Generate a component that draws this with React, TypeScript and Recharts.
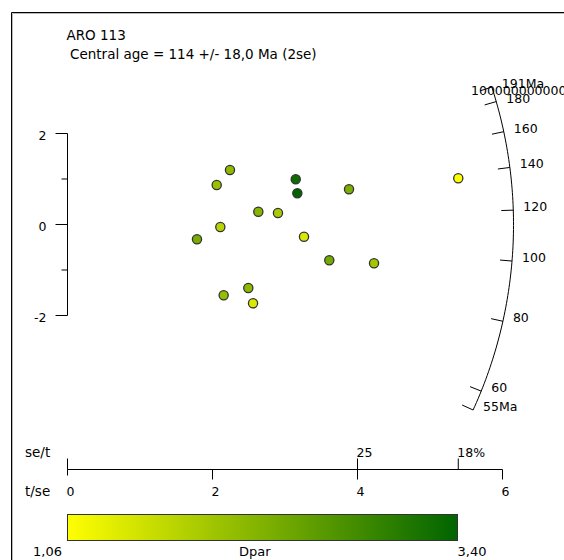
import React from 'react'
import { ScatterChart, Scatter, XAxis, YAxis, ReferenceLine, ReferenceDot } from 'recharts'

// grains: x = t/se (precision), y = standardised estimate, Dpar for colour
const precision = [2.241, 2.058, 3.148, 3.17, 3.883, 2.632, 2.903, 2.108, 1.786, 3.262, 3.611, 4.228, 2.494, 2.154, 2.559, 5.39]
const zScore = [1.198, 0.868, 0.993, 0.686, 0.774, 0.281, 0.253, -0.055, -0.325, -0.268, -0.787, -0.853, -1.396, -1.556, -1.732, 1.015]
const dpar = [2.11, 1.99, 3.28, 3.4, 2.28, 2.16, 1.86, 1.72, 2.3, 1.41, 2.35, 1.9, 2.11, 2.04, 1.39, 1.06]

const sampleName = 'ARO 113'
const centralAge = 114
const centralErr = 18.0
const arcTicks = [60, 80, 100, 120, 140, 160, 180]
const arcEnds = [55, 191]
const zTicks = [-2, -1, 0, 1, 2]
const tseTicks = [0, 2, 4, 6]
const seTickPos = [0, 4, 5.39]
const seTickLabels = ['', '25', '18%']
const dparRange = [1.06, 3.4]

// arc radius in data units (x and y scales differ)
const R_X = 6.152
const R_Y = 9.802

const FONT = '"DejaVu Sans", Verdana, sans-serif'
const INK = '#000'

const lo = [255, 255, 0]
const hi = [0, 100, 0]
function dparColor(v: number) {
  const t = Math.max(0, Math.min(1, (v - dparRange[0]) / (dparRange[1] - dparRange[0])))
  const c = lo.map((a, i) => Math.round(a + (hi[i] - a) * t))
  return `rgb(${c[0]},${c[1]},${c[2]})`
}

const phiOf = (age: number) => Math.atan((Math.log(age / centralAge) * R_X) / R_Y)
const onArc = (phi: number, k = 1) => ({ x: k * R_X * Math.cos(phi), y: k * R_Y * Math.sin(phi) })

const grains = precision.map((x, i) => ({ x, y: zScore[i], d: dpar[i] }))

const arcSteps = 80
const phiLo = phiOf(arcEnds[0])
const phiHi = phiOf(arcEnds[1])
const arcSegments = Array.from({ length: arcSteps }, (_, i) => {
  const a = phiLo + ((phiHi - phiLo) * i) / arcSteps
  const b = phiLo + ((phiHi - phiLo) * (i + 1)) / arcSteps
  return [onArc(a), onArc(b)]
})
const arcLabels = [
  ...arcTicks.map((t) => ({ age: t, label: String(t) })),
  { age: arcEnds[0], label: `${arcEnds[0]}Ma` },
  { age: arcEnds[1], label: `${arcEnds[1]}Ma` },
]

function ZTick(props: any) {
  const { x, y, payload } = props
  const major = payload.value % 2 === 0
  return (
    <g>
      <line x1={x - (major ? 12 : 6)} x2={x} y1={y} y2={y} stroke="#000" />
      {major && (
        <text x={x - 21} y={y + 6.5} textAnchor="end" fontSize={12.5} fontFamily={FONT} fill={INK}>
          {payload.value}
        </text>
      )}
    </g>
  )
}

function XTick(props: any) {
  const { x, y, payload } = props
  const v = payload.value
  const tse = tseTicks.includes(v)
  const si = seTickPos.indexOf(v)
  return (
    <g>
      {tse && <line x1={x} x2={x} y1={y} y2={y + (v === 0 ? 6 : 10)} stroke="#000" />}
      {tse && (
        <text x={x - 1} y={y + 26} fontSize={12.5} fontFamily={FONT} fill={INK}>
          {v}
        </text>
      )}
      {si >= 0 && <line x1={x} x2={x} y1={y - 11} y2={y} stroke="#000" />}
      {si >= 0 && seTickLabels[si] && (
        <text x={x - 1} y={y - 12.5} fontSize={12.5} fontFamily={FONT} fill={INK}>
          {seTickLabels[si]}
        </text>
      )}
      {v === 0 && (
        <>
          <text x={x - 42.5} y={y - 12.5} fontSize={13.5} fontFamily={FONT} fill={INK}>se/t</text>
          <text x={x - 42.5} y={y + 26} fontSize={13.5} fontFamily={FONT} fill={INK}>t/se</text>
        </>
      )}
    </g>
  )
}

function Overlay() {
  const fmt = (v: number) => v.toFixed(2).replace('.', ',')
  return (
    <svg width={564} height={560} style={{ position: 'absolute', left: 0, top: 0 }}>
      <defs>
        <linearGradient id="dparGrad" x1="0" x2="1" y1="0" y2="0">
          <stop offset="0%" stopColor={dparColor(dparRange[0])} />
          <stop offset="100%" stopColor={dparColor(dparRange[1])} />
        </linearGradient>
      </defs>
      <line x1={11.5} y1={12.5} x2={564} y2={12.5} stroke="#000" />
      <line x1={11.5} y1={12.5} x2={11.5} y2={560} stroke="#000" />
      <line x1={12.5} y1={13.5} x2={564} y2={13.5} stroke="#bbb" />
      <line x1={12.5} y1={13.5} x2={12.5} y2={560} stroke="#bbb" />
      <text x={66.5} y={40} fontSize={13.5} fontFamily={FONT} fill={INK}>{sampleName}</text>
      <text x={70} y={59} fontSize={13.5} fontFamily={FONT} fill={INK}>
        {`Central age = ${centralAge} +/- ${centralErr.toFixed(1).replace('.', ',')} Ma (2se)`}
      </text>
      <text x={471} y={95} fontSize={12.5} fontFamily={FONT} fill={INK}>1000000000000000</text>
      <rect x={67.5} y={514.5} width={390} height={26} fill="url(#dparGrad)" stroke="#333" />
      <text x={62} y={556} textAnchor="end" fontSize={13} fontFamily={FONT} fill={INK}>{fmt(dparRange[0])}</text>
      <text x={239} y={556} fontSize={13} fontFamily={FONT} fill={INK}>Dpar</text>
      <text x={457.5} y={556} fontSize={13} fontFamily={FONT} fill={INK}>{fmt(dparRange[1])}</text>
    </svg>
  )
}

export default function App() {
  return (
    <div style={{ position: 'absolute', left: 0, top: 0, width: 564, height: 560, overflow: 'hidden', background: '#fff' }}>
      <Overlay />
      <div style={{ position: 'absolute', left: 0, top: 0 }}>
        <ScatterChart width={564} height={560} margin={{ top: 133.5, right: 61.5, bottom: 0, left: 7.5 }}>
          <XAxis
            dataKey="x"
            type="number"
            domain={[0, 6]}
            allowDataOverflow
            ticks={[0, 2, 4, 5.39, 6]}
            interval={0}
            height={90.5}
            axisLine={{ stroke: '#000' }}
            tickLine={false}
            tickSize={0}
            tickMargin={0}
            tick={(p: any) => <XTick {...p} />}
          />
          <YAxis
            dataKey="y"
            type="number"
            domain={[-5.385, 2]}
            allowDataOverflow
            ticks={zTicks}
            interval={0}
            width={60}
            axisLine={false}
            tickLine={false}
            tickSize={0}
            tickMargin={0}
            tick={(p: any) => <ZTick {...p} />}
          />
          <ReferenceLine segment={[{ x: 0, y: -2 }, { x: 0, y: 2 }]} stroke="#000" ifOverflow="visible" />
          {arcSegments.map((s, i) => (
            <ReferenceLine key={`arc${i}`} segment={s} stroke="#000" ifOverflow="visible" />
          ))}
          {arcLabels.map((a) => {
            const phi = phiOf(a.age)
            const p = onArc(phi)
            return (
              <ReferenceLine key={`tk${a.age}`} segment={[onArc(phi, 0.973), p]} stroke="#000" ifOverflow="visible" />
            )
          })}
          {arcLabels.map((a) => {
            const p = onArc(phiOf(a.age))
            return (
              <ReferenceDot
                key={`lb${a.age}`}
                x={p.x}
                y={p.y}
                r={0}
                ifOverflow="visible"
                shape={(d: any) => (
                  <text x={d.cx + 10} y={d.cy + 1} fontSize={12.5} fontFamily={FONT} fill={INK}>
                    {a.label}
                  </text>
                )}
              />
            )
          })}
          <Scatter
            data={grains}
            isAnimationActive={false}
            shape={(p: any) => (
              <circle cx={p.cx} cy={p.cy} r={4.6} fill={dparColor(p.payload.d)} stroke="#333" strokeWidth={1.3} />
            )}
          />
        </ScatterChart>
      </div>
    </div>
  )
}
